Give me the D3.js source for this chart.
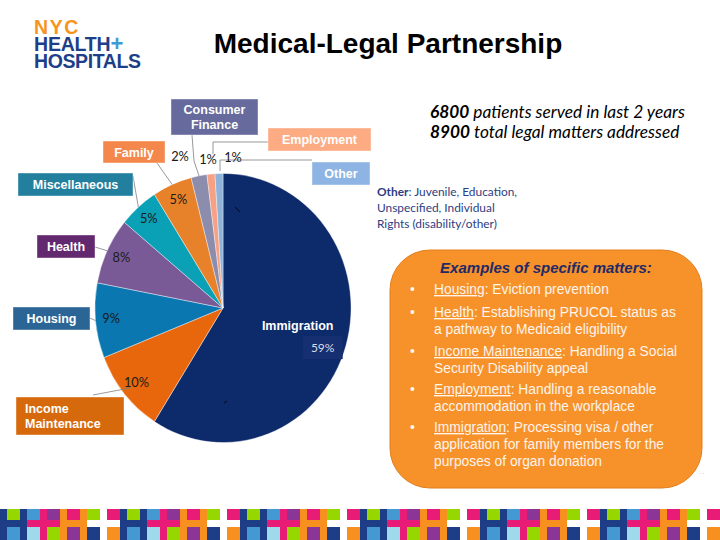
<!DOCTYPE html>
<html><head><meta charset="utf-8">
<script src="https://cdn.jsdelivr.net/npm/d3@7"></script>
<style>
html,body{margin:0;padding:0;background:#fff;}
svg{display:block;}
</style></head>
<body>
<svg id="c" width="720" height="540"></svg>
<script>
// ---------------- data ----------------
const categories = ["Immigration","Income Maintenance","Housing","Health","Miscellaneous","Family","Consumer Finance","Employment","Other"];
const values = [59,10,9,8,5,5,2,1,1];
const sliceColors = ["#0d2a6b","#e9670c","#0a77b1","#7a5a96","#0aa0b5","#e8822a","#8c8cac","#f6a084","#8eb2da"];
const boxColors = ["#0d2a6b","#d6690c","#2b6596","#63296f","#22809e","#f4874b","#676a9c","#fcab82","#8db4e2"];
const stats = [["6800"," patients served in last 2 years"],["8900"," total legal matters addressed"]];
const otherNote = ["Juvenile, Education,","Unspecified, Individual","Rights (disability/other)"];
const examples = [
  ["Housing",": Eviction prevention"],
  ["Health",": Establishing PRUCOL status as","a pathway to Medicaid eligibility"],
  ["Income Maintenance",": Handling a Social","Security Disability appeal"],
  ["Employment",": Handling a reasonable","accommodation in the workplace"],
  ["Immigration",": Processing visa / other","application for family members for the","purposes of organ donation"]
];

// ---------------- layout (annotations) ----------------
const cx = 223, cy = 308, R = 130, sx = 0.985, sy = 1.035;
const boxLayout = {
  "Income Maintenance": {box:[16,397,108,38], lines:["Income","Maintenance"], align:"start", leader:[[93,395]], lr:0.93},
  "Housing": {box:[13,307,77,23], lines:["Housing"], align:"middle", leader:[[90,318]], lr:1.0},
  "Health": {box:[37,235,58,23], lines:["Health"], align:"middle", leader:[[95,247]], lr:1.0},
  "Miscellaneous": {box:[18,173,115,23], lines:["Miscellaneous"], align:"middle", leader:[[133,176]], lr:1.0},
  "Family": {box:[103,141,62,22], lines:["Family"], align:"middle", leader:[[157,163]], lr:1.0},
  "Consumer Finance": {box:[171,99,87,36], lines:["Consumer","Finance"], align:"middle", leader:[[192,135],[194,161]], lr:1.0},
  "Employment": {box:[268,128,103,23], lines:["Employment"], align:"middle", leader:[[268,142],[213,142],[213,154]], lr:null},
  "Other": {box:[312,162,58,23], lines:["Other"], align:"middle", leader:[[312,160],[220,160],[220,171]], lr:null}
};
const pctPos = {"Consumer Finance":[180,161],"Employment":[208,164],"Other":[233,162]};

const svg = d3.select("#c");

// ---------------- logo (single text block) ----------------
const logo = svg.append("text").attr("font-family","Liberation Sans, Arial, sans-serif").attr("font-weight","bold").attr("font-size",19.5);
logo.append("tspan").attr("x",34).attr("y",34).attr("fill","#f7941d").attr("letter-spacing",1.6).text("NYC");
logo.append("tspan").attr("x",34).attr("y",51).attr("fill","#1d3f8a").attr("letter-spacing",-0.2).text("HEALTH");
logo.append("tspan").attr("fill","#3d9ad6").attr("font-size",22).text("+");
logo.append("tspan").attr("x",34).attr("y",68).attr("fill","#1d3f8a").attr("letter-spacing",-0.4).text("HOSPITALS");

// ---------------- title ----------------
svg.append("text").attr("x",388).attr("y",53).attr("text-anchor","middle")
  .attr("font-family","Liberation Sans, Arial, sans-serif").attr("font-weight","bold").attr("font-size",28)
  .attr("fill","#000").text("Medical-Legal Partnership");

// ---------------- pie ----------------
const data = categories.map((c,i)=>({cat:c, value:values[i], i}));
const pie = d3.pie().value(d=>d.value).sort(null).startAngle(0).endAngle(2*Math.PI);
const arcs = pie(data);
const arc = d3.arc().innerRadius(0).outerRadius(R);
const pg = svg.append("g").attr("transform",`translate(${cx},${cy}) scale(${sx},${sy})`);
pg.selectAll("path").data(arcs).join("path")
  .attr("d",arc).attr("fill",d=>sliceColors[d.data.i])
  .attr("stroke","#ffffff").attr("stroke-width",0.4);

function toScreen(p){ return [cx + p[0]*sx, cy + p[1]*sy]; }
function edgePoint(d, r){
  const a = (d.startAngle + d.endAngle)/2;
  return toScreen([Math.sin(a)*r, -Math.cos(a)*r]);
}

// leader lines
const leaderG = svg.append("g").attr("fill","none").attr("stroke","#7f7f7f").attr("stroke-width",0.8);
arcs.forEach(d=>{
  const L = boxLayout[d.data.cat]; if(!L) return;
  let pts = L.leader.slice();
  if(L.lr!==null){ pts.push(edgePoint(d, R*L.lr)); }
  leaderG.append("path").attr("d", d3.line()(pts));
});

// label boxes
const boxG = svg.append("g").attr("font-family","Liberation Sans, Arial, sans-serif").attr("font-weight","bold").attr("font-size",12.5).attr("fill","#fff");
arcs.forEach(d=>{
  const L = boxLayout[d.data.cat]; if(!L) return;
  const [x,y,w,hh] = L.box;
  boxG.append("rect").attr("x",x).attr("y",y).attr("width",w).attr("height",hh)
    .attr("fill",boxColors[d.data.i]).attr("stroke","#ffffff").attr("stroke-opacity",0.5).attr("stroke-width",0.8);
  const n = L.lines.length;
  L.lines.forEach((t,k)=>{
    const ty = y + hh/2 + 4.5 + (k-(n-1)/2)*15;
    boxG.append("text").attr("x", L.align==="start"? x+9 : x+w/2).attr("y",ty)
      .attr("text-anchor",L.align).text(t);
  });
});

// percent labels
const pctG = svg.append("g").attr("font-family","Lato, Carlito, sans-serif").attr("font-size",12.8).attr("fill","#1a1a1a").attr("text-anchor","middle");
arcs.forEach(d=>{
  if(d.data.cat==="Immigration") return;
  const p = pctPos[d.data.cat] || (function(){ const q = edgePoint(d, 114); return [q[0], q[1]+4]; })();
  pctG.append("text").attr("x",p[0]).attr("y",p[1]).text(d.data.value+"%");
});

// immigration label
const im = arcs[0];
const ic = edgePoint(im, 80);
svg.append("text").attr("x",ic[0]-1).attr("y",ic[1]-1).attr("text-anchor","middle")
  .attr("font-family","Liberation Sans, Arial, sans-serif").attr("font-weight","bold").attr("font-size",12.5).attr("fill","#fff").text("Immigration");
svg.append("rect").attr("x",ic[0]+4).attr("y",ic[1]+5).attr("width",40).attr("height",23).attr("fill","#162f70");
svg.append("text").attr("x",ic[0]+24).attr("y",ic[1]+21).attr("text-anchor","middle")
  .attr("font-family","Lato, Carlito, sans-serif").attr("font-size",12).attr("fill","#d8dce8").text(im.data.value+"%");
svg.append("path").attr("d","M235,207 L240,212").attr("stroke","#000").attr("stroke-width",0.8);
svg.append("path").attr("d","M224,403 L227,401").attr("stroke","#000").attr("stroke-width",0.8);

// ---------------- right stats ----------------
const st = svg.append("g").attr("font-family","Lato, Carlito, sans-serif").attr("font-style","italic").attr("font-size",17.3).attr("fill","#000");
stats.forEach((s,k)=>{
  const t = st.append("text").attr("x",430).attr("y",118+k*20);
  t.append("tspan").attr("font-weight","bold").text(s[0]);
  t.append("tspan").text(s[1]);
});

// other note
const on = svg.append("g").attr("font-family","Lato, Carlito, sans-serif").attr("font-size",11.9).attr("fill","#2d3d82");
otherNote.forEach((s,k)=>{
  const t = on.append("text").attr("x",377).attr("y",196+k*16);
  if(k===0){ t.append("tspan").attr("font-weight","bold").text("Other"); t.append("tspan").text(": "+s); }
  else t.text(s);
});

// ---------------- examples box ----------------
svg.append("rect").attr("x",390).attr("y",250).attr("width",312).attr("height",238).attr("rx",40).attr("ry",40)
  .attr("fill","#f7922b").attr("stroke","#e27d1c").attr("stroke-width",1);
svg.append("text").attr("x",546).attr("y",273).attr("text-anchor","middle")
  .attr("font-family","Liberation Sans, Arial, sans-serif").attr("font-weight","bold").attr("font-style","italic").attr("font-size",15)
  .attr("fill","#1f2a66").text("Examples of specific matters:");
const ex = svg.append("g").attr("font-family","Liberation Sans, Arial, sans-serif").attr("font-size",13.8).attr("fill","#fdf4ea");
const bulletY = [294,317,356,394,432];
examples.forEach((e,k)=>{
  const y0 = bulletY[k];
  ex.append("text").attr("x",410).attr("y",y0).text("•");
  const t = ex.append("text").attr("x",434).attr("y",y0);
  t.append("tspan").attr("text-decoration","underline").text(e[0]);
  t.append("tspan").text(e[1]);
  e.slice(2).forEach((l,j)=>{
    ex.append("text").attr("x",434).attr("y",y0+17*(j+1)).text(l);
  });
});
svg.append("text").attr("x",699).attr("y",476).attr("font-size",6).attr("fill","#999").text("· ·");

// ---------------- bottom strip ----------------
const navy="#1d3e87", lime="#97d700", blue="#4599d2", cyan="#9fd9ec", pink="#e81c76", purple="#8b3696", orange="#f7901e";
const cells = [
  [0,7,navy,navy,navy],[7,13,lime,navy,blue],[20,7,navy,navy,navy],
  [27,13,blue,pink,cyan],[40,7,pink,pink,pink],[47,13,purple,pink,lime],
  [60,7,orange,orange,orange],[67,13,pink,orange,purple],[80,7,orange,orange,orange],
  [87,13,lime,null,navy],[107,13,pink,null,orange]
];
const strip = svg.append("g");
d3.range(0,720,120).forEach(off=>{
  cells.forEach(c=>{
    const [x,w,t,m,b]=c;
    if(t) strip.append("rect").attr("x",off+x).attr("y",509).attr("width",w).attr("height",11).attr("fill",t);
    if(m) strip.append("rect").attr("x",off+x).attr("y",520).attr("width",w).attr("height",7).attr("fill",m);
    if(b) strip.append("rect").attr("x",off+x).attr("y",527).attr("width",w).attr("height",13).attr("fill",b);
  });
});
</script>
</body></html>
